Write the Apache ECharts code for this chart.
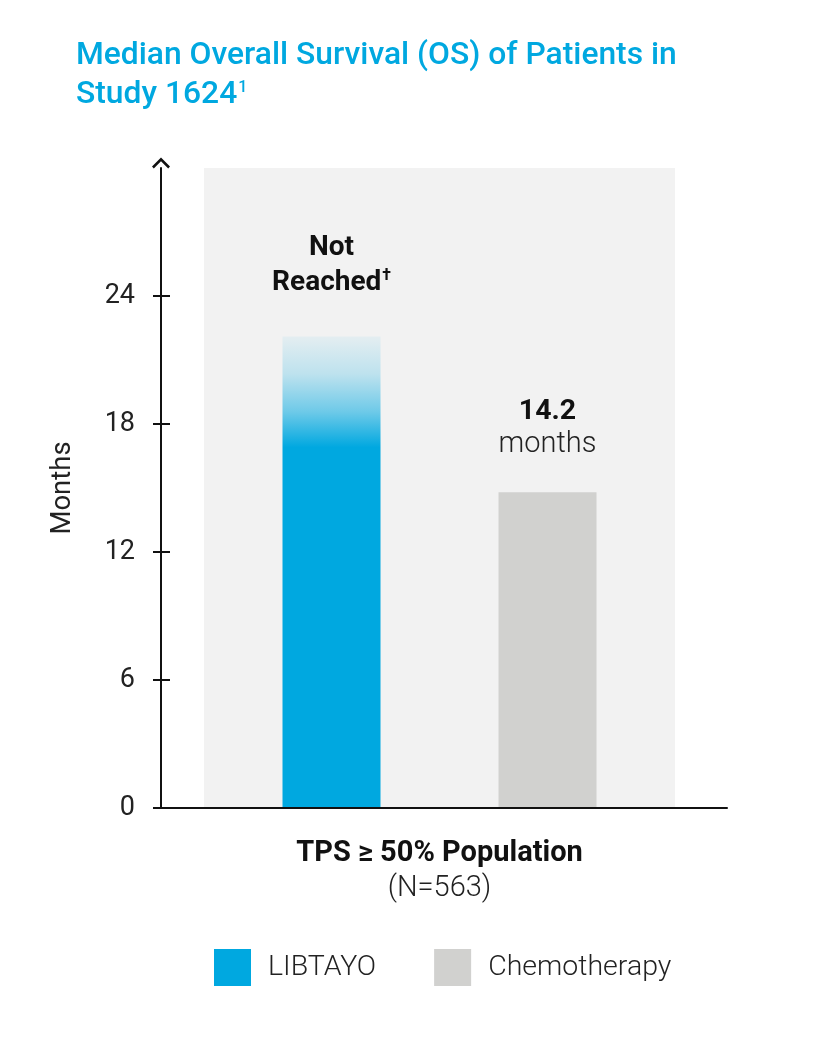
<!DOCTYPE html>
<html><head><meta charset="utf-8">
<script src="https://cdn.jsdelivr.net/npm/echarts@6/dist/echarts.min.js"></script>
<style>html,body{margin:0;padding:0;background:#fff}#c{width:833px;height:1042px}</style>
</head><body><div id="c"></div>
<script>
const categories = ['TPS ≥ 50% Population'];
const categorySub = ['(N=563)'];
const seriesNames = ['LIBTAYO', 'Chemotherapy'];
const libtayoValues = [22.1];
const chemoValues = [14.8];
const backgroundValues = [30];
const yTickValues = [0, 6, 12, 18, 24];
const yMax = 30;
const libtayoLabel = ['Not', 'Reached'];
const chemoLabel = ['14.2', 'months'];

const BLUE = '#00A8E0';
const GREY = '#D1D1CF';
const FONT = 'Roboto';
const chart = echarts.init(document.getElementById('c'));
chart.setOption({
  backgroundColor: '#fff',
  animation: false,
  title: {
    left: 71, top: 32,
    text: '{a|Median Overall Survival (OS) of Patients in}\n{a|Study 1624}{s|1}',
    textStyle: {
      rich: {
        a: { fontFamily: FONT, fontSize: 31.8, fontWeight: 500, color: BLUE, lineHeight: 39 },
        s: { fontFamily: FONT, fontSize: 16, fontWeight: 500, color: BLUE, lineHeight: 39, padding: [0, 0, 15, 1] }
      }
    }
  },
  legend: {
    left: 209, top: 944,
    itemWidth: 37, itemHeight: 37, itemGap: 58,
    icon: 'rect',
    data: [
      { name: seriesNames[0], itemStyle: { color: BLUE } },
      { name: seriesNames[1], itemStyle: { color: GREY } }
    ],
    textStyle: { fontFamily: FONT, fontSize: 28.5, fontWeight: 300, color: '#222', padding: [0, 0, 0, 12] }
  },
  grid: [
    { left: 161, right: 106, top: 168, bottom: 234 },
    { left: 204, right: 158, top: 168, bottom: 234 }
  ],
  xAxis: [
    { gridIndex: 0, type: 'category', data: categories, z: 10,
      axisLine: { lineStyle: { color: '#111', width: 2 } },
      axisTick: { show: false }, axisLabel: { show: false } },
    { gridIndex: 1, type: 'category', data: categories, position: 'bottom',
      axisLine: { show: false }, axisTick: { show: false },
      axisLabel: {
        margin: 28,
        formatter: (v, i) => '{t|' + v + '}\n{n|' + categorySub[i] + '}',
        rich: {
          t: { fontFamily: FONT, fontSize: 29, fontWeight: 'bold', color: '#111', lineHeight: 35 },
          n: { fontFamily: FONT, fontSize: 29, fontWeight: 300, color: '#222', lineHeight: 35 }
        }
      } },
    { gridIndex: 1, type: 'category', data: categories, position: 'top', show: false }
  ],
  yAxis: [
    { gridIndex: 0, type: 'value', min: 0, max: yMax, interval: 6, z: 10,
      name: 'Months', nameLocation: 'middle', nameRotate: 90, nameGap: 84,
      nameTextStyle: { fontFamily: FONT, fontSize: 27.5, color: '#222' },
      axisLine: { show: true, lineStyle: { color: '#111', width: 2 },
        symbol: ['none', 'path://M10,0 L20,10 L18,12 L10,4 L2,12 L0,10 Z'], symbolSize: [18, 11], symbolOffset: [0, 5] },
      axisTick: { show: true, length: 8, lineStyle: { color: '#111', width: 2 }, customValues: yTickValues },
      axisLabel: { margin: 26, fontFamily: FONT, fontSize: 27, color: '#222', customValues: yTickValues },
      splitLine: { show: false } },
    { gridIndex: 1, type: 'value', min: 0, max: yMax, show: false },
    { gridIndex: 0, type: 'value', min: 0, max: yMax, interval: 6, position: 'left', z: 10,
      axisLine: { show: false }, axisLabel: { show: false }, splitLine: { show: false },
      axisTick: { show: true, inside: true, length: 9, lineStyle: { color: '#111', width: 2 }, customValues: yTickValues } }
  ],
  series: [
    { type: 'bar', name: 'bg', xAxisIndex: 2, yAxisIndex: 1, data: backgroundValues,
      barWidth: '100%', silent: true, z: 1, itemStyle: { color: '#F2F2F2' } },
    { type: 'bar', name: seriesNames[0], xAxisIndex: 1, yAxisIndex: 1, data: libtayoValues,
      barWidth: 98, barGap: '120.4%', z: 3,
      itemStyle: { color: new echarts.graphic.LinearGradient(0, 0, 0, 1, [
        { offset: 0, color: 'rgba(0,168,224,0.06)' },
        { offset: 0.08, color: 'rgba(0,168,224,0.22)' },
        { offset: 0.16, color: 'rgba(0,168,224,0.55)' },
        { offset: 0.235, color: BLUE },
        { offset: 1, color: BLUE }
      ]) },
      label: { show: true, position: 'top', distance: 36,
        formatter: () => '{b|' + libtayoLabel[0] + '}\n{b|' + libtayoLabel[1] + '}{s|†}',
        rich: {
          b: { fontFamily: FONT, fontSize: 28, fontWeight: 'bold', color: '#111', lineHeight: 35 },
          s: { fontFamily: FONT, fontSize: 16, fontWeight: 'bold', color: '#111', lineHeight: 35, padding: [0, 0, 14, 1] }
        } } },
    { type: 'bar', name: seriesNames[1], xAxisIndex: 1, yAxisIndex: 1, data: chemoValues,
      barWidth: 98, z: 3, itemStyle: { color: GREY },
      label: { show: true, position: 'top', distance: 32,
        formatter: () => '{b|' + chemoLabel[0] + '}\n{n|' + chemoLabel[1] + '}',
        rich: {
          b: { fontFamily: FONT, fontSize: 28.5, fontWeight: 'bold', color: '#111', lineHeight: 32 },
          n: { fontFamily: FONT, fontSize: 29, fontWeight: 300, color: '#222', lineHeight: 32 }
        } } }
  ]
});
</script></body></html>
